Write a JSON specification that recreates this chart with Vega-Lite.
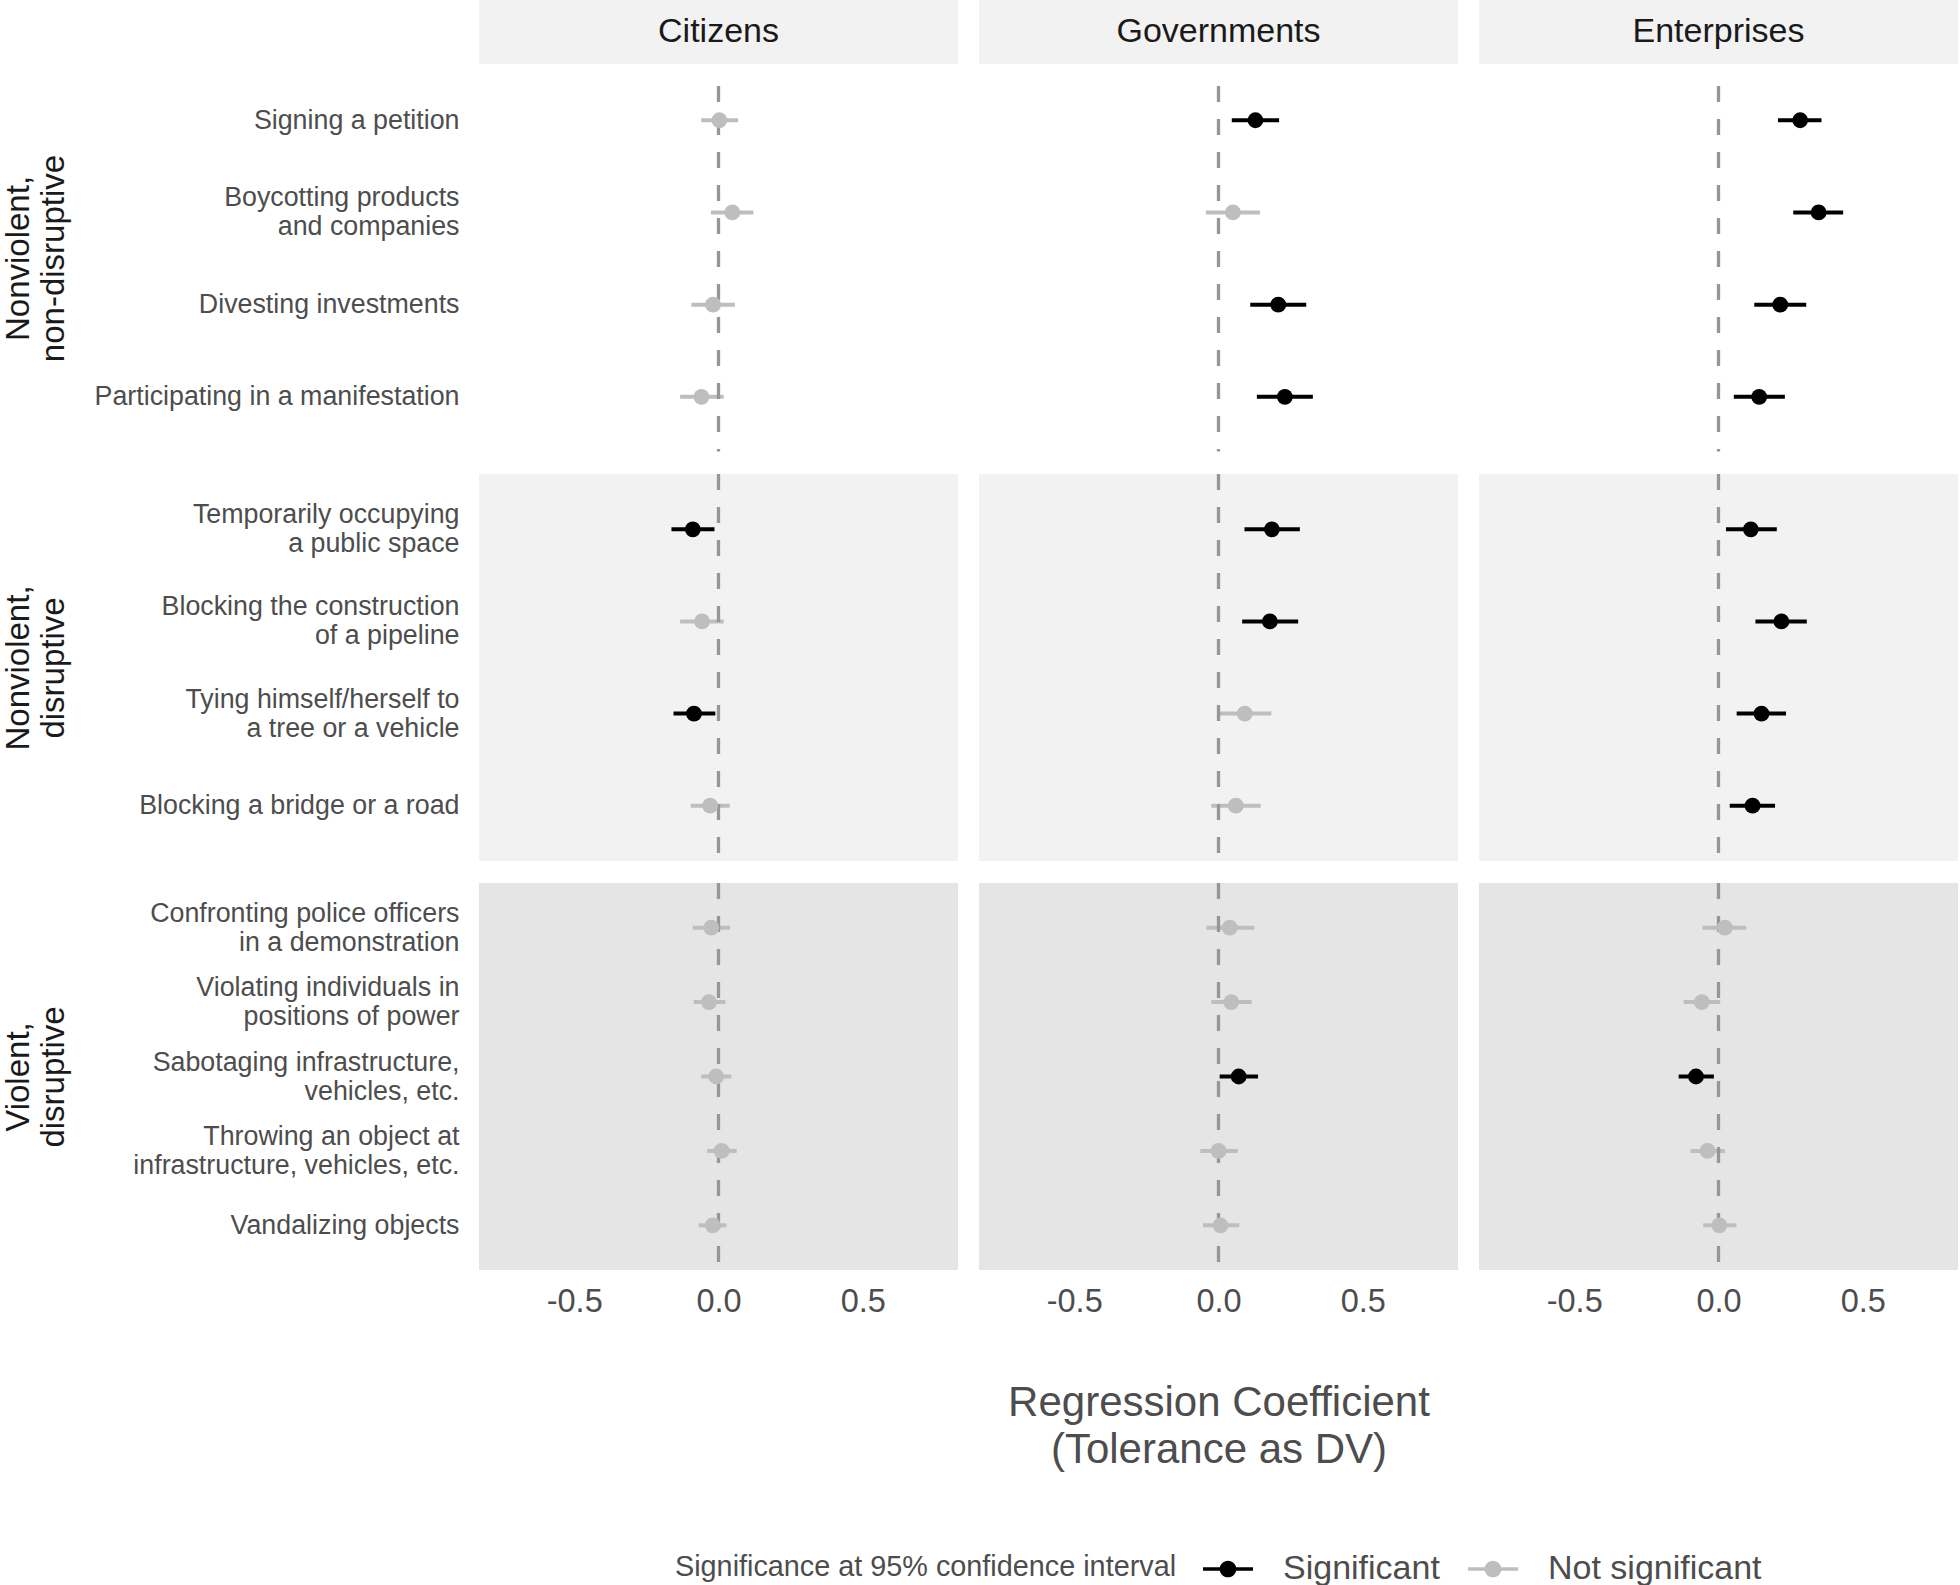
{
  "$schema": "https://vega.github.io/schema/vega-lite/v6.json",
  "padding": {"left": 2, "top": 0, "right": 0, "bottom": 0},
  "autosize": {"type": "pad"},
  "background": "white",
  "bounds": "flush",
  "align": "each",
  "columns": 3,
  "spacing": {"row": 22, "column": 21},
  "datasets": {
    "coef": [
      {"actor": "Citizens", "group": "NN", "action": "Signing a petition", "estimate": 0.003, "low": -0.060, "high": 0.068, "significance": "Not significant"},
      {"actor": "Citizens", "group": "NN", "action": "Boycotting products\nand companies", "estimate": 0.048, "low": -0.026, "high": 0.121, "significance": "Not significant"},
      {"actor": "Citizens", "group": "NN", "action": "Divesting investments", "estimate": -0.019, "low": -0.094, "high": 0.057, "significance": "Not significant"},
      {"actor": "Citizens", "group": "NN", "action": "Participating in a manifestation", "estimate": -0.059, "low": -0.133, "high": 0.018, "significance": "Not significant"},
      {"actor": "Citizens", "group": "ND", "action": "Temporarily occupying\na public space", "estimate": -0.089, "low": -0.163, "high": -0.014, "significance": "Significant"},
      {"actor": "Citizens", "group": "ND", "action": "Blocking the construction\nof a pipeline", "estimate": -0.057, "low": -0.133, "high": 0.018, "significance": "Not significant"},
      {"actor": "Citizens", "group": "ND", "action": "Tying himself/herself to\na tree or a vehicle", "estimate": -0.085, "low": -0.156, "high": -0.011, "significance": "Significant"},
      {"actor": "Citizens", "group": "ND", "action": "Blocking a bridge or a road", "estimate": -0.029, "low": -0.096, "high": 0.039, "significance": "Not significant"},
      {"actor": "Citizens", "group": "VD", "action": "Confronting police officers\nin a demonstration", "estimate": -0.025, "low": -0.089, "high": 0.040, "significance": "Not significant"},
      {"actor": "Citizens", "group": "VD", "action": "Violating individuals in\npositions of power", "estimate": -0.033, "low": -0.086, "high": 0.024, "significance": "Not significant"},
      {"actor": "Citizens", "group": "VD", "action": "Sabotaging infrastructure,\nvehicles, etc.", "estimate": -0.008, "low": -0.060, "high": 0.045, "significance": "Not significant"},
      {"actor": "Citizens", "group": "VD", "action": "Throwing an object at\ninfrastructure, vehicles, etc.", "estimate": 0.011, "low": -0.039, "high": 0.063, "significance": "Not significant"},
      {"actor": "Citizens", "group": "VD", "action": "Vandalizing objects", "estimate": -0.020, "low": -0.069, "high": 0.028, "significance": "Not significant"},
      {"actor": "Governments", "group": "NN", "action": "Signing a petition", "estimate": 0.128, "low": 0.046, "high": 0.210, "significance": "Significant"},
      {"actor": "Governments", "group": "NN", "action": "Boycotting products\nand companies", "estimate": 0.050, "low": -0.044, "high": 0.144, "significance": "Not significant"},
      {"actor": "Governments", "group": "NN", "action": "Divesting investments", "estimate": 0.207, "low": 0.110, "high": 0.304, "significance": "Significant"},
      {"actor": "Governments", "group": "NN", "action": "Participating in a manifestation", "estimate": 0.230, "low": 0.133, "high": 0.327, "significance": "Significant"},
      {"actor": "Governments", "group": "ND", "action": "Temporarily occupying\na public space", "estimate": 0.185, "low": 0.090, "high": 0.282, "significance": "Significant"},
      {"actor": "Governments", "group": "ND", "action": "Blocking the construction\nof a pipeline", "estimate": 0.178, "low": 0.082, "high": 0.276, "significance": "Significant"},
      {"actor": "Governments", "group": "ND", "action": "Tying himself/herself to\na tree or a vehicle", "estimate": 0.091, "low": 0.000, "high": 0.183, "significance": "Not significant"},
      {"actor": "Governments", "group": "ND", "action": "Blocking a bridge or a road", "estimate": 0.060, "low": -0.025, "high": 0.146, "significance": "Not significant"},
      {"actor": "Governments", "group": "VD", "action": "Confronting police officers\nin a demonstration", "estimate": 0.039, "low": -0.042, "high": 0.124, "significance": "Not significant"},
      {"actor": "Governments", "group": "VD", "action": "Violating individuals in\npositions of power", "estimate": 0.044, "low": -0.025, "high": 0.115, "significance": "Not significant"},
      {"actor": "Governments", "group": "VD", "action": "Sabotaging infrastructure,\nvehicles, etc.", "estimate": 0.070, "low": 0.004, "high": 0.137, "significance": "Significant"},
      {"actor": "Governments", "group": "VD", "action": "Throwing an object at\ninfrastructure, vehicles, etc.", "estimate": 0.000, "low": -0.063, "high": 0.067, "significance": "Not significant"},
      {"actor": "Governments", "group": "VD", "action": "Vandalizing objects", "estimate": 0.007, "low": -0.054, "high": 0.072, "significance": "Not significant"},
      {"actor": "Enterprises", "group": "NN", "action": "Signing a petition", "estimate": 0.283, "low": 0.206, "high": 0.357, "significance": "Significant"},
      {"actor": "Enterprises", "group": "NN", "action": "Boycotting products\nand companies", "estimate": 0.347, "low": 0.259, "high": 0.432, "significance": "Significant"},
      {"actor": "Enterprises", "group": "NN", "action": "Divesting investments", "estimate": 0.214, "low": 0.124, "high": 0.304, "significance": "Significant"},
      {"actor": "Enterprises", "group": "NN", "action": "Participating in a manifestation", "estimate": 0.141, "low": 0.053, "high": 0.230, "significance": "Significant"},
      {"actor": "Enterprises", "group": "ND", "action": "Temporarily occupying\na public space", "estimate": 0.112, "low": 0.026, "high": 0.202, "significance": "Significant"},
      {"actor": "Enterprises", "group": "ND", "action": "Blocking the construction\nof a pipeline", "estimate": 0.218, "low": 0.128, "high": 0.306, "significance": "Significant"},
      {"actor": "Enterprises", "group": "ND", "action": "Tying himself/herself to\na tree or a vehicle", "estimate": 0.149, "low": 0.063, "high": 0.234, "significance": "Significant"},
      {"actor": "Enterprises", "group": "ND", "action": "Blocking a bridge or a road", "estimate": 0.118, "low": 0.039, "high": 0.196, "significance": "Significant"},
      {"actor": "Enterprises", "group": "VD", "action": "Confronting police officers\nin a demonstration", "estimate": 0.022, "low": -0.055, "high": 0.096, "significance": "Not significant"},
      {"actor": "Enterprises", "group": "VD", "action": "Violating individuals in\npositions of power", "estimate": -0.058, "low": -0.121, "high": 0.006, "significance": "Not significant"},
      {"actor": "Enterprises", "group": "VD", "action": "Sabotaging infrastructure,\nvehicles, etc.", "estimate": -0.078, "low": -0.138, "high": -0.016, "significance": "Significant"},
      {"actor": "Enterprises", "group": "VD", "action": "Throwing an object at\ninfrastructure, vehicles, etc.", "estimate": -0.038, "low": -0.097, "high": 0.022, "significance": "Not significant"},
      {"actor": "Enterprises", "group": "VD", "action": "Vandalizing objects", "estimate": 0.003, "low": -0.053, "high": 0.062, "significance": "Not significant"}
    ]
  },
  "data": {"name": "coef"},
  "concat": [
    {"width": 479, "height": 64, "view": {"fill": "#f2f2f2", "stroke": null}, "data": {"values": [{"actor": "Citizens"}]}, "mark": {"type": "text", "fontSize": 34, "color": "#1a1a1a"}, "encoding": {"text": {"field": "actor"}}},
    {"width": 479, "height": 64, "view": {"fill": "#f2f2f2", "stroke": null}, "data": {"values": [{"actor": "Governments"}]}, "mark": {"type": "text", "fontSize": 34, "color": "#1a1a1a"}, "encoding": {"text": {"field": "actor"}}},
    {"width": 479, "height": 64, "view": {"fill": "#f2f2f2", "stroke": null}, "data": {"values": [{"actor": "Enterprises"}]}, "mark": {"type": "text", "fontSize": 34, "color": "#1a1a1a"}, "encoding": {"text": {"field": "actor"}}},

    {
      "width": 479, "height": 365.5, "view": {"fill": "#ffffff", "stroke": null},
      "transform": [{"filter": "datum.actor == 'Citizens' && datum.group == 'NN'"}],
      "layer": [
        {"mark": {"type": "rule", "strokeWidth": 4}, "encoding": {"y": {"field": "action", "type": "nominal", "sort": ["Signing a petition", "Boycotting products\nand companies", "Divesting investments", "Participating in a manifestation"], "scale": {"type": "point", "padding": 0.482, "align": 0.385}, "axis": {"title": ["Nonviolent,", "non-disruptive"], "titleY": 172, "labelOffset": {"condition": {"test": "indexof(datum.label, '\\n') >= 0", "value": -14.5}, "value": 0}}}, "x": {"field": "low", "type": "quantitative", "scale": {"domain": [-0.83, 0.83], "nice": false, "zero": false}, "axis": null}, "x2": {"field": "high"}, "color": {"field": "significance", "type": "nominal", "scale": {"domain": ["Significant", "Not significant"], "range": ["#000000", "#bebebe"]}, "title": "Significance at 95% confidence interval", "legend": {"orient": "none", "legendX": 196, "legendY": 1548, "direction": "horizontal", "titleOrient": "left"}}}},
        {"transform": [{"aggregate": [{"op": "count", "as": "n"}]}], "mark": {"type": "rule", "color": "#969696", "strokeWidth": 3.3, "strokeDash": [16, 17]}, "encoding": {"x": {"datum": 0, "type": "quantitative", "axis": null}}},
        {"mark": {"type": "point", "filled": true, "size": 250, "opacity": 1}, "encoding": {"y": {"field": "action", "type": "nominal", "sort": ["Signing a petition", "Boycotting products\nand companies", "Divesting investments", "Participating in a manifestation"], "scale": {"type": "point", "padding": 0.482, "align": 0.385}, "axis": {"title": ["Nonviolent,", "non-disruptive"], "titleY": 172, "labelOffset": {"condition": {"test": "indexof(datum.label, '\\n') >= 0", "value": -14.5}, "value": 0}}}, "x": {"field": "estimate", "type": "quantitative", "axis": null}, "color": {"field": "significance", "type": "nominal", "title": "Significance at 95% confidence interval", "scale": {"domain": ["Significant", "Not significant"], "range": ["#000000", "#bebebe"]}, "legend": {"orient": "none", "legendX": 196, "legendY": 1548, "direction": "horizontal", "titleOrient": "left"}}}}
      ]
    },
    {
      "width": 479, "height": 365.5, "view": {"fill": "#ffffff", "stroke": null},
      "transform": [{"filter": "datum.actor == 'Governments' && datum.group == 'NN'"}],
      "layer": [
        {"mark": {"type": "rule", "strokeWidth": 4}, "encoding": {"y": {"field": "action", "type": "nominal", "sort": ["Signing a petition", "Boycotting products\nand companies", "Divesting investments", "Participating in a manifestation"], "scale": {"type": "point", "padding": 0.482, "align": 0.385}, "axis": null}, "x": {"field": "low", "type": "quantitative", "scale": {"domain": [-0.83, 0.83], "nice": false, "zero": false}, "axis": null}, "x2": {"field": "high"}, "color": {"field": "significance", "type": "nominal", "title": "Significance at 95% confidence interval", "scale": {"domain": ["Significant", "Not significant"], "range": ["#000000", "#bebebe"]}, "legend": {"orient": "none", "legendX": 196, "legendY": 1548, "direction": "horizontal", "titleOrient": "left"}}}},
        {"transform": [{"aggregate": [{"op": "count", "as": "n"}]}], "mark": {"type": "rule", "color": "#969696", "strokeWidth": 3.3, "strokeDash": [16, 17]}, "encoding": {"x": {"datum": 0, "type": "quantitative", "axis": null}}},
        {"mark": {"type": "point", "filled": true, "size": 250, "opacity": 1}, "encoding": {"y": {"field": "action", "type": "nominal", "sort": ["Signing a petition", "Boycotting products\nand companies", "Divesting investments", "Participating in a manifestation"], "scale": {"type": "point", "padding": 0.482, "align": 0.385}, "axis": null}, "x": {"field": "estimate", "type": "quantitative", "axis": null}, "color": {"field": "significance", "type": "nominal", "title": "Significance at 95% confidence interval", "scale": {"domain": ["Significant", "Not significant"], "range": ["#000000", "#bebebe"]}, "legend": {"orient": "none", "legendX": 196, "legendY": 1548, "direction": "horizontal", "titleOrient": "left"}}}}
      ]
    },
    {
      "width": 479, "height": 365.5, "view": {"fill": "#ffffff", "stroke": null},
      "transform": [{"filter": "datum.actor == 'Enterprises' && datum.group == 'NN'"}],
      "layer": [
        {"mark": {"type": "rule", "strokeWidth": 4}, "encoding": {"y": {"field": "action", "type": "nominal", "sort": ["Signing a petition", "Boycotting products\nand companies", "Divesting investments", "Participating in a manifestation"], "scale": {"type": "point", "padding": 0.482, "align": 0.385}, "axis": null}, "x": {"field": "low", "type": "quantitative", "scale": {"domain": [-0.83, 0.83], "nice": false, "zero": false}, "axis": null}, "x2": {"field": "high"}, "color": {"field": "significance", "type": "nominal", "title": "Significance at 95% confidence interval", "scale": {"domain": ["Significant", "Not significant"], "range": ["#000000", "#bebebe"]}, "legend": {"orient": "none", "legendX": 196, "legendY": 1548, "direction": "horizontal", "titleOrient": "left"}}}},
        {"transform": [{"aggregate": [{"op": "count", "as": "n"}]}], "mark": {"type": "rule", "color": "#969696", "strokeWidth": 3.3, "strokeDash": [16, 17]}, "encoding": {"x": {"datum": 0, "type": "quantitative", "axis": null}}},
        {"mark": {"type": "point", "filled": true, "size": 250, "opacity": 1}, "encoding": {"y": {"field": "action", "type": "nominal", "sort": ["Signing a petition", "Boycotting products\nand companies", "Divesting investments", "Participating in a manifestation"], "scale": {"type": "point", "padding": 0.482, "align": 0.385}, "axis": null}, "x": {"field": "estimate", "type": "quantitative", "axis": null}, "color": {"field": "significance", "type": "nominal", "title": "Significance at 95% confidence interval", "scale": {"domain": ["Significant", "Not significant"], "range": ["#000000", "#bebebe"]}, "legend": {"orient": "none", "legendX": 196, "legendY": 1548, "direction": "horizontal", "titleOrient": "left"}}}}
      ]
    },

    {
      "width": 479, "height": 387, "view": {"fill": "#f2f2f2", "stroke": null},
      "transform": [{"filter": "datum.actor == 'Citizens' && datum.group == 'ND'"}],
      "layer": [
        {"mark": {"type": "rule", "strokeWidth": 4}, "encoding": {"y": {"field": "action", "type": "nominal", "sort": ["Temporarily occupying\na public space", "Blocking the construction\nof a pipeline", "Tying himself/herself to\na tree or a vehicle", "Blocking a bridge or a road"], "scale": {"type": "point", "padding": 0.6}, "axis": {"title": ["Nonviolent,", "disruptive"], "labelOffset": {"condition": {"test": "indexof(datum.label, '\\n') >= 0", "value": -14.5}, "value": 0}}}, "x": {"field": "low", "type": "quantitative", "scale": {"domain": [-0.83, 0.83], "nice": false, "zero": false}, "axis": null}, "x2": {"field": "high"}, "color": {"field": "significance", "type": "nominal", "title": "Significance at 95% confidence interval", "scale": {"domain": ["Significant", "Not significant"], "range": ["#000000", "#bebebe"]}, "legend": {"orient": "none", "legendX": 196, "legendY": 1548, "direction": "horizontal", "titleOrient": "left"}}}},
        {"transform": [{"aggregate": [{"op": "count", "as": "n"}]}], "mark": {"type": "rule", "color": "#969696", "strokeWidth": 3.3, "strokeDash": [16, 17]}, "encoding": {"x": {"datum": 0, "type": "quantitative", "axis": null}}},
        {"mark": {"type": "point", "filled": true, "size": 250, "opacity": 1}, "encoding": {"y": {"field": "action", "type": "nominal", "sort": ["Temporarily occupying\na public space", "Blocking the construction\nof a pipeline", "Tying himself/herself to\na tree or a vehicle", "Blocking a bridge or a road"], "scale": {"type": "point", "padding": 0.6}, "axis": {"title": ["Nonviolent,", "disruptive"], "labelOffset": {"condition": {"test": "indexof(datum.label, '\\n') >= 0", "value": -14.5}, "value": 0}}}, "x": {"field": "estimate", "type": "quantitative", "axis": null}, "color": {"field": "significance", "type": "nominal", "title": "Significance at 95% confidence interval", "scale": {"domain": ["Significant", "Not significant"], "range": ["#000000", "#bebebe"]}, "legend": {"orient": "none", "legendX": 196, "legendY": 1548, "direction": "horizontal", "titleOrient": "left"}}}}
      ]
    },
    {
      "width": 479, "height": 387, "view": {"fill": "#f2f2f2", "stroke": null},
      "transform": [{"filter": "datum.actor == 'Governments' && datum.group == 'ND'"}],
      "layer": [
        {"mark": {"type": "rule", "strokeWidth": 4}, "encoding": {"y": {"field": "action", "type": "nominal", "sort": ["Temporarily occupying\na public space", "Blocking the construction\nof a pipeline", "Tying himself/herself to\na tree or a vehicle", "Blocking a bridge or a road"], "scale": {"type": "point", "padding": 0.6}, "axis": null}, "x": {"field": "low", "type": "quantitative", "scale": {"domain": [-0.83, 0.83], "nice": false, "zero": false}, "axis": null}, "x2": {"field": "high"}, "color": {"field": "significance", "type": "nominal", "title": "Significance at 95% confidence interval", "scale": {"domain": ["Significant", "Not significant"], "range": ["#000000", "#bebebe"]}, "legend": {"orient": "none", "legendX": 196, "legendY": 1548, "direction": "horizontal", "titleOrient": "left"}}}},
        {"transform": [{"aggregate": [{"op": "count", "as": "n"}]}], "mark": {"type": "rule", "color": "#969696", "strokeWidth": 3.3, "strokeDash": [16, 17]}, "encoding": {"x": {"datum": 0, "type": "quantitative", "axis": null}}},
        {"mark": {"type": "point", "filled": true, "size": 250, "opacity": 1}, "encoding": {"y": {"field": "action", "type": "nominal", "sort": ["Temporarily occupying\na public space", "Blocking the construction\nof a pipeline", "Tying himself/herself to\na tree or a vehicle", "Blocking a bridge or a road"], "scale": {"type": "point", "padding": 0.6}, "axis": null}, "x": {"field": "estimate", "type": "quantitative", "axis": null}, "color": {"field": "significance", "type": "nominal", "title": "Significance at 95% confidence interval", "scale": {"domain": ["Significant", "Not significant"], "range": ["#000000", "#bebebe"]}, "legend": {"orient": "none", "legendX": 196, "legendY": 1548, "direction": "horizontal", "titleOrient": "left"}}}}
      ]
    },
    {
      "width": 479, "height": 387, "view": {"fill": "#f2f2f2", "stroke": null},
      "transform": [{"filter": "datum.actor == 'Enterprises' && datum.group == 'ND'"}],
      "layer": [
        {"mark": {"type": "rule", "strokeWidth": 4}, "encoding": {"y": {"field": "action", "type": "nominal", "sort": ["Temporarily occupying\na public space", "Blocking the construction\nof a pipeline", "Tying himself/herself to\na tree or a vehicle", "Blocking a bridge or a road"], "scale": {"type": "point", "padding": 0.6}, "axis": null}, "x": {"field": "low", "type": "quantitative", "scale": {"domain": [-0.83, 0.83], "nice": false, "zero": false}, "axis": null}, "x2": {"field": "high"}, "color": {"field": "significance", "type": "nominal", "title": "Significance at 95% confidence interval", "scale": {"domain": ["Significant", "Not significant"], "range": ["#000000", "#bebebe"]}, "legend": {"orient": "none", "legendX": 196, "legendY": 1548, "direction": "horizontal", "titleOrient": "left"}}}},
        {"transform": [{"aggregate": [{"op": "count", "as": "n"}]}], "mark": {"type": "rule", "color": "#969696", "strokeWidth": 3.3, "strokeDash": [16, 17]}, "encoding": {"x": {"datum": 0, "type": "quantitative", "axis": null}}},
        {"mark": {"type": "point", "filled": true, "size": 250, "opacity": 1}, "encoding": {"y": {"field": "action", "type": "nominal", "sort": ["Temporarily occupying\na public space", "Blocking the construction\nof a pipeline", "Tying himself/herself to\na tree or a vehicle", "Blocking a bridge or a road"], "scale": {"type": "point", "padding": 0.6}, "axis": null}, "x": {"field": "estimate", "type": "quantitative", "axis": null}, "color": {"field": "significance", "type": "nominal", "title": "Significance at 95% confidence interval", "scale": {"domain": ["Significant", "Not significant"], "range": ["#000000", "#bebebe"]}, "legend": {"orient": "none", "legendX": 196, "legendY": 1548, "direction": "horizontal", "titleOrient": "left"}}}}
      ]
    },

    {
      "width": 479, "height": 387, "view": {"fill": "#e5e5e5", "stroke": null},
      "transform": [{"filter": "datum.actor == 'Citizens' && datum.group == 'VD'"}],
      "layer": [
        {"mark": {"type": "rule", "strokeWidth": 4}, "encoding": {"y": {"field": "action", "type": "nominal", "sort": ["Confronting police officers\nin a demonstration", "Violating individuals in\npositions of power", "Sabotaging infrastructure,\nvehicles, etc.", "Throwing an object at\ninfrastructure, vehicles, etc.", "Vandalizing objects"], "scale": {"type": "point", "padding": 0.6}, "axis": {"title": ["Violent,", "disruptive"], "labelOffset": {"condition": {"test": "indexof(datum.label, '\\n') >= 0", "value": -14.5}, "value": 0}}}, "x": {"field": "low", "type": "quantitative", "scale": {"domain": [-0.83, 0.83], "nice": false, "zero": false}, "axis": {"values": [-0.5, 0, 0.5], "title": null}}, "x2": {"field": "high"}, "color": {"field": "significance", "type": "nominal", "title": "Significance at 95% confidence interval", "scale": {"domain": ["Significant", "Not significant"], "range": ["#000000", "#bebebe"]}, "legend": {"orient": "none", "legendX": 196, "legendY": 1548, "direction": "horizontal", "titleOrient": "left"}}}},
        {"transform": [{"aggregate": [{"op": "count", "as": "n"}]}], "mark": {"type": "rule", "color": "#969696", "strokeWidth": 3.3, "strokeDash": [16, 17]}, "encoding": {"x": {"datum": 0, "type": "quantitative", "axis": {"values": [-0.5, 0, 0.5], "title": null}}}},
        {"mark": {"type": "point", "filled": true, "size": 250, "opacity": 1}, "encoding": {"y": {"field": "action", "type": "nominal", "sort": ["Confronting police officers\nin a demonstration", "Violating individuals in\npositions of power", "Sabotaging infrastructure,\nvehicles, etc.", "Throwing an object at\ninfrastructure, vehicles, etc.", "Vandalizing objects"], "scale": {"type": "point", "padding": 0.6}, "axis": {"title": ["Violent,", "disruptive"], "labelOffset": {"condition": {"test": "indexof(datum.label, '\\n') >= 0", "value": -14.5}, "value": 0}}}, "x": {"field": "estimate", "type": "quantitative", "axis": {"values": [-0.5, 0, 0.5], "title": null}}, "color": {"field": "significance", "type": "nominal", "title": "Significance at 95% confidence interval", "scale": {"domain": ["Significant", "Not significant"], "range": ["#000000", "#bebebe"]}, "legend": {"orient": "none", "legendX": 196, "legendY": 1548, "direction": "horizontal", "titleOrient": "left"}}}}
      ]
    },
    {
      "width": 479, "height": 387, "view": {"fill": "#e5e5e5", "stroke": null},
      "transform": [{"filter": "datum.actor == 'Governments' && datum.group == 'VD'"}],
      "layer": [
        {"mark": {"type": "rule", "strokeWidth": 4}, "encoding": {"y": {"field": "action", "type": "nominal", "sort": ["Confronting police officers\nin a demonstration", "Violating individuals in\npositions of power", "Sabotaging infrastructure,\nvehicles, etc.", "Throwing an object at\ninfrastructure, vehicles, etc.", "Vandalizing objects"], "scale": {"type": "point", "padding": 0.6}, "axis": null}, "x": {"field": "low", "type": "quantitative", "scale": {"domain": [-0.83, 0.83], "nice": false, "zero": false}, "axis": {"values": [-0.5, 0, 0.5], "title": ["Regression Coefficient", "(Tolerance as DV)"]}}, "x2": {"field": "high"}, "color": {"field": "significance", "type": "nominal", "title": "Significance at 95% confidence interval", "scale": {"domain": ["Significant", "Not significant"], "range": ["#000000", "#bebebe"]}, "legend": {"orient": "none", "legendX": 196, "legendY": 1548, "direction": "horizontal", "titleOrient": "left"}}}},
        {"transform": [{"aggregate": [{"op": "count", "as": "n"}]}], "mark": {"type": "rule", "color": "#969696", "strokeWidth": 3.3, "strokeDash": [16, 17]}, "encoding": {"x": {"datum": 0, "type": "quantitative", "axis": {"values": [-0.5, 0, 0.5], "title": ["Regression Coefficient", "(Tolerance as DV)"]}}}},
        {"mark": {"type": "point", "filled": true, "size": 250, "opacity": 1}, "encoding": {"y": {"field": "action", "type": "nominal", "sort": ["Confronting police officers\nin a demonstration", "Violating individuals in\npositions of power", "Sabotaging infrastructure,\nvehicles, etc.", "Throwing an object at\ninfrastructure, vehicles, etc.", "Vandalizing objects"], "scale": {"type": "point", "padding": 0.6}, "axis": null}, "x": {"field": "estimate", "type": "quantitative", "axis": {"values": [-0.5, 0, 0.5], "title": ["Regression Coefficient", "(Tolerance as DV)"]}}, "color": {"field": "significance", "type": "nominal", "title": "Significance at 95% confidence interval", "scale": {"domain": ["Significant", "Not significant"], "range": ["#000000", "#bebebe"]}, "legend": {"orient": "none", "legendX": 196, "legendY": 1548, "direction": "horizontal", "titleOrient": "left"}}}}
      ]
    },
    {
      "width": 479, "height": 387, "view": {"fill": "#e5e5e5", "stroke": null},
      "transform": [{"filter": "datum.actor == 'Enterprises' && datum.group == 'VD'"}],
      "layer": [
        {"mark": {"type": "rule", "strokeWidth": 4}, "encoding": {"y": {"field": "action", "type": "nominal", "sort": ["Confronting police officers\nin a demonstration", "Violating individuals in\npositions of power", "Sabotaging infrastructure,\nvehicles, etc.", "Throwing an object at\ninfrastructure, vehicles, etc.", "Vandalizing objects"], "scale": {"type": "point", "padding": 0.6}, "axis": null}, "x": {"field": "low", "type": "quantitative", "scale": {"domain": [-0.83, 0.83], "nice": false, "zero": false}, "axis": {"values": [-0.5, 0, 0.5], "title": null}}, "x2": {"field": "high"}, "color": {"field": "significance", "type": "nominal", "title": "Significance at 95% confidence interval", "scale": {"domain": ["Significant", "Not significant"], "range": ["#000000", "#bebebe"]}, "legend": {"orient": "none", "legendX": 196, "legendY": 1548, "direction": "horizontal", "titleOrient": "left"}}}},
        {"transform": [{"aggregate": [{"op": "count", "as": "n"}]}], "mark": {"type": "rule", "color": "#969696", "strokeWidth": 3.3, "strokeDash": [16, 17]}, "encoding": {"x": {"datum": 0, "type": "quantitative", "axis": {"values": [-0.5, 0, 0.5], "title": null}}}},
        {"mark": {"type": "point", "filled": true, "size": 250, "opacity": 1}, "encoding": {"y": {"field": "action", "type": "nominal", "sort": ["Confronting police officers\nin a demonstration", "Violating individuals in\npositions of power", "Sabotaging infrastructure,\nvehicles, etc.", "Throwing an object at\ninfrastructure, vehicles, etc.", "Vandalizing objects"], "scale": {"type": "point", "padding": 0.6}, "axis": null}, "x": {"field": "estimate", "type": "quantitative", "axis": {"values": [-0.5, 0, 0.5], "title": null}}, "color": {"field": "significance", "type": "nominal", "title": "Significance at 95% confidence interval", "scale": {"domain": ["Significant", "Not significant"], "range": ["#000000", "#bebebe"]}, "legend": {"orient": "none", "legendX": 196, "legendY": 1548, "direction": "horizontal", "titleOrient": "left"}}}}
      ]
    }
  ],
  "config": {
    "font": "Liberation Sans",
    "view": {"stroke": null},
    "axis": {"grid": false, "ticks": false, "domain": false, "labelColor": "#4d4d4d", "titleFontWeight": "normal"},
    "axisY": {"labelFontSize": 26.8, "labelPadding": 20, "labelLimit": 0, "labelLineHeight": 29, "labelExpr": "split(datum.label, '\\n')", "titleFontSize": 33, "titleColor": "#1a1a1a", "titleLineHeight": 35, "titlePadding": 18.5, "minExtent": 390, "maxExtent": 390},
    "axisX": {"labelFontSize": 32.5, "labelPadding": 15, "labelExpr": "datum.value < 0 ? '-' + format(-datum.value, '.1f') : format(datum.value, '.1f')", "titleFontSize": 42, "titleColor": "#4d4d4d", "titleLineHeight": 47, "titlePadding": 65},
    "legend": {
      "titleFontSize": 28.8, "titleFontWeight": "normal", "titleColor": "#4d4d4d", "titlePadding": 30, "titleLimit": 0,
      "labelFontSize": 34, "labelColor": "#4d4d4d", "labelOffset": 34, "labelLimit": 0, "columnPadding": 28,
      "symbolType": "M-1.2,-0.085H1.2V0.085H-1.2Z M0.4,0A0.4,0.4,0,1,1,-0.4,0A0.4,0.4,0,1,1,0.4,0Z",
      "symbolSize": 1736, "symbolStrokeWidth": 0
    }
  }
}
